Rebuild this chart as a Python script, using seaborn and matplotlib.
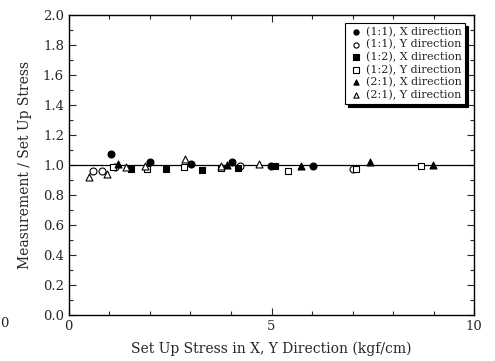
import matplotlib
matplotlib.use("Agg")
import matplotlib.pyplot as plt
import seaborn as sns
import pandas as pd
from matplotlib.ticker import MultipleLocator

sns.set_style("ticks")
plt.rcParams['font.family'] = ['DejaVu Serif']

labels = ["(1:1), X direction", "(1:1), Y direction", "(1:2), X direction",
          "(1:2), Y direction", "(2:1), X direction", "(2:1), Y direction"]

x_11x = [1.03, 2.00, 3.01, 4.02, 4.99, 6.02]
y_11x = [1.075, 1.022, 1.007, 1.018, 0.995, 0.995]
x_11y = [0.60, 0.81, 1.13, 4.23, 7.01]
y_11y = [0.962, 0.962, 0.990, 0.995, 0.975]
x_12x = [1.53, 2.40, 3.28, 4.18, 5.08]
y_12x = [0.973, 0.973, 0.967, 0.978, 0.995]
x_12y = [1.08, 1.92, 2.84, 3.76, 5.40, 7.08, 8.68]
y_12y = [0.985, 0.973, 0.987, 0.980, 0.962, 0.975, 0.995]
x_21x = [1.22, 3.89, 5.72, 7.43, 8.98]
y_21x = [1.011, 1.000, 0.993, 1.018, 1.000]
x_21y = [0.50, 0.95, 1.41, 1.88, 2.86, 3.76, 4.70]
y_21y = [0.918, 0.940, 0.989, 0.993, 1.040, 0.993, 1.011]

xs = [x_11x, x_11y, x_12x, x_12y, x_21x, x_21y]
ys = [y_11x, y_11y, y_12x, y_12y, y_21x, y_21y]
markers = ["o", "o", "s", "s", "^", "^"]
filled = [True, False, True, False, True, False]

fig = plt.figure(figsize=(4.95, 3.61), dpi=100)
ax = fig.add_axes([0.139, 0.127, 0.819, 0.831])

ax.axhline(1.0, color="black", lw=0.9, zorder=1)

for lab, x, y, m, f in zip(labels, xs, ys, markers, filled):
    df = pd.DataFrame({"x": x, "y": y})
    sns.scatterplot(data=df, x="x", y="y", ax=ax, marker=m, s=25,
                    facecolor="black" if f else "white", edgecolor="black",
                    linewidth=0.8, label=lab, zorder=3)

ax.set_xlim(0, 10)
ax.set_ylim(0, 2.0)
ax.xaxis.set_major_locator(MultipleLocator(5))
ax.xaxis.set_minor_locator(MultipleLocator(1))
ax.yaxis.set_major_locator(MultipleLocator(0.2))
ax.yaxis.set_minor_locator(MultipleLocator(0.1))
ax.yaxis.set_major_formatter(matplotlib.ticker.FormatStrFormatter("%.1f"))
ax.tick_params(which="both", direction="in", top=True, right=True, labelsize=9.5, width=0.8)
ax.tick_params(which="major", length=5)
ax.tick_params(which="minor", length=3)
for sp in ax.spines.values():
    sp.set_linewidth(1.0)
    sp.set_color("black")

ax.set_xlabel("Set Up Stress in X, Y Direction (kgf/cm)", fontsize=10, labelpad=6)
ax.set_ylabel("Measurement / Set Up Stress", fontsize=10, labelpad=8)

leg = ax.legend(loc="upper right", bbox_to_anchor=(0.992, 0.993), fontsize=8,
                frameon=True, fancybox=False, shadow={"color": "black", "alpha": 1.0},
                edgecolor="black", framealpha=1, handletextpad=0.3,
                borderpad=0.35, labelspacing=0.2, handlelength=1.2, markerscale=0.75)
leg.get_frame().set_linewidth(0.8)

fig.text(0.0, 0.105, "0", fontsize=9.5, va="center", ha="left")

fig.savefig("out.png", dpi=100)
